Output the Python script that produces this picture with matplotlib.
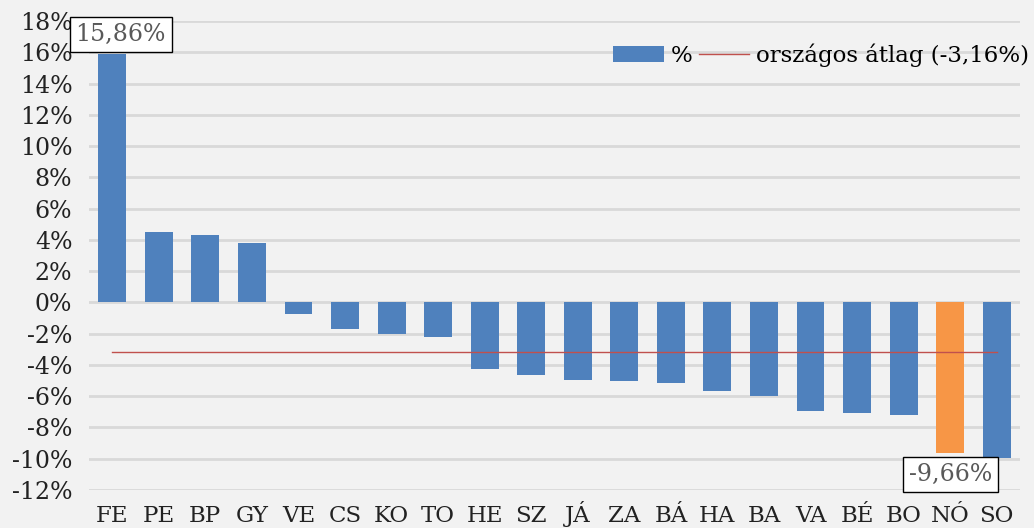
"""Regional change chart: bars per county with national average line."""

import matplotlib
matplotlib.use("Agg")
import matplotlib.pyplot as plt
from matplotlib.ticker import FuncFormatter

counties = ["FE", "PE", "BP", "GY", "VE", "CS", "KO", "TO", "HE", "SZ",
            "JÁ", "ZA", "BÁ", "HA", "BA", "VA", "BÉ", "BO", "NÓ", "SO"]
change = [15.86, 4.5, 4.3, 3.8, -0.75, -1.7, -2.0, -2.2, -4.25, -4.65,
          -4.95, -5.0, -5.15, -5.65, -6.0, -6.95, -7.05, -7.2, -9.66, -9.95]
national_avg = -3.16
highlight = "NÓ"

BLUE = "#4F81BD"
ORANGE = "#F79646"
RED = "#C0504D"
BG = "#F2F2F2"

plt.rcParams["font.family"] = ["DejaVu Serif"]

fig = plt.figure(figsize=(10.34, 5.28), dpi=100, facecolor=BG)
ax = fig.add_axes([89 / 1034, 38 / 528, 931 / 1034, 469 / 528])
ax.set_facecolor(BG)

x = list(range(len(counties)))
colors = [ORANGE if c == highlight else BLUE for c in counties]
bars = ax.bar(x, change, width=0.6, color=colors, zorder=2, label="%")
avg_line, = ax.plot([x[0], x[-1]], [national_avg, national_avg], color=RED,
                    lw=1, zorder=3, label="országos átlag (-3,16%)")

ax.set_xlim(-0.5, len(counties) - 0.5)
ax.set_ylim(-12, 18)
ax.set_yticks(range(-12, 19, 2))
ax.yaxis.set_major_formatter(FuncFormatter(lambda v, p: f"{v:.0f}%"))
ax.set_xticks(x)
ax.set_xticklabels(counties, va="baseline")
ax.tick_params(length=0, colors="#222222")
ax.tick_params(axis="y", pad=12, labelsize=17)
ax.tick_params(axis="x", pad=23, labelsize=16.5)
ax.grid(axis="y", color="#D9D9D9", lw=2, zorder=0)
for s in ax.spines.values():
    s.set_visible(False)


def fmt(v):
    return f"{v:.2f}".replace(".", ",") + "%"


box = dict(boxstyle="square,pad=0.25", fc="white", ec="black", lw=1)
i_max = change.index(max(change))
ax.annotate(fmt(change[i_max]), (x[i_max], change[i_max]),
            xytext=(6, 6), textcoords="offset points", ha="center",
            va="bottom", fontsize=17, color="#595959", bbox=box, zorder=4)
i_hl = counties.index(highlight)
ax.annotate(fmt(change[i_hl]), (x[i_hl], change[i_hl]),
            xytext=(0, -7), textcoords="offset points", ha="center",
            va="top", fontsize=17, color="#595959", bbox=box, zorder=4)

ax.legend(handles=[bars, avg_line], loc="center right",
          bbox_to_anchor=(1.01, 0.9275), frameon=False, ncol=2,
          fontsize=16.5, handlelength=2.2, handletextpad=0.3,
          columnspacing=0.3, borderaxespad=0, borderpad=0)

fig.savefig("out.png", dpi=100, facecolor=BG)
